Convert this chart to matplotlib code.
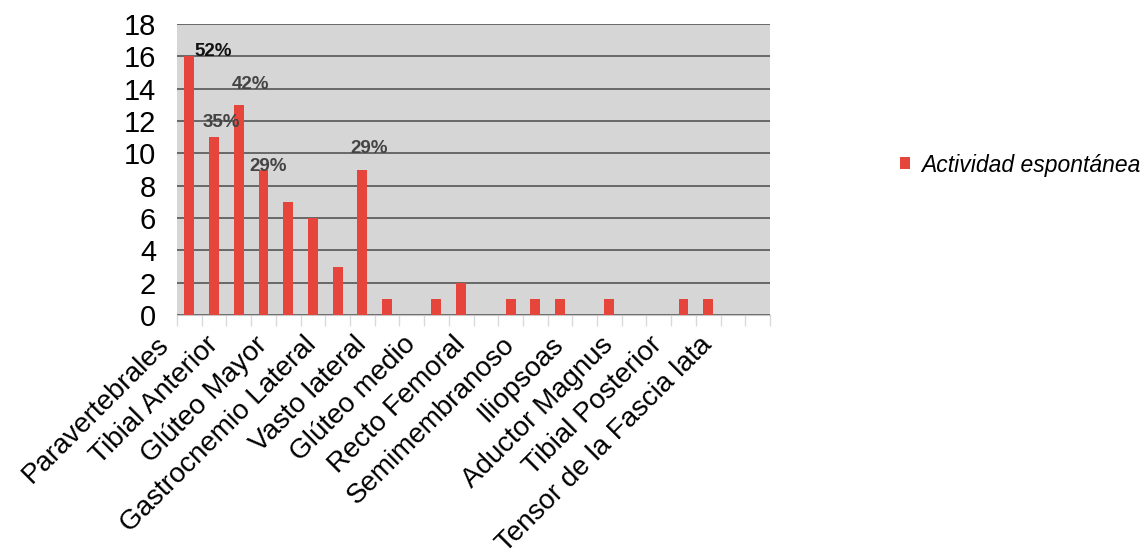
import numpy as np
import matplotlib
matplotlib.use("Agg")
import matplotlib.pyplot as plt
from matplotlib.transforms import ScaledTranslation

plt.rcParams['font.family'] = ['Liberation Sans', 'DejaVu Sans']

# 24 category slots, only every other one carries a label
values = [16, 11, 13, 9, 7, 6, 3, 9, 1, 0, 1, 2,
          0, 1, 1, 1, 0, 1, 0, 0, 1, 1, 0, 0]
labels = ["Paravertebrales", "Tibial Anterior", "Glúteo Mayor",
          "Gastrocnemio Lateral", "Vasto lateral", "Glúteo medio",
          "Recto Femoral", "Semimembranoso", "Iliopsoas",
          "Aductor Magnus", "Tibial Posterior", "Tensor de la Fascia lata"]
pct_idx = [0, 1, 2, 3, 7]
pct_text = ["52%", "35%", "42%", "29%", "29%"]
series_name = "Actividad espontánea"

# label offsets in pixels (hand placed in the original)
pct_off = [(5, 5), (-11, 15), (-7, 20), (-14, 3), (-12, 21)]

fig = plt.figure(figsize=(11.48, 5.6), dpi=100)
ax = fig.add_axes([177/1148, 1-315/560, (770-177)/1148, (315-24)/560])
ax.set_facecolor('#d6d6d6')

x = np.arange(len(values))
bars = ax.bar(x, values, width=0.4, color='#e5453a', zorder=3, label=series_name)

ax.set_xlim(-0.5, len(values)-0.5)
ax.set_ylim(0, 18)
ax.set_yticks(np.arange(0, 19, 2))
ax.yaxis.grid(True, color='#555555', lw=1.2, zorder=1)
ax.tick_params(axis='y', length=0, pad=15, labelsize=21)
for s in ['top', 'right', 'left']:
    ax.spines[s].set_visible(False)
ax.spines['bottom'].set_color('#c8c8c8')

# tick marks on the category boundaries
ax.set_xticks(np.arange(len(values)+1) - 0.5, minor=True)
ax.tick_params(axis='x', which='minor', length=8, color='#dadada', width=1)
ax.set_xticks(x[::2], labels)
ax.tick_params(axis='x', which='major', length=0, pad=12, labelsize=20)
shift = ScaledTranslation(-0.34, 0, fig.dpi_scale_trans)
for lbl in ax.get_xticklabels():
    lbl.set_rotation(45)
    lbl.set_rotation_mode('anchor')
    lbl.set_ha('right')
    lbl.set_va('top')
    lbl.set_transform(lbl.get_transform() + shift)

for k, (i, t) in enumerate(zip(pct_idx, pct_text)):
    ax.annotate(t, (i, values[i]), xytext=pct_off[k], textcoords='offset pixels',
                ha='left', va='center', fontsize=13.5, fontweight='bold',
                color='#111111' if k == 0 else '#444444', zorder=4)

leg = fig.legend(handles=[bars], labels=[series_name], loc='center left',
                 bbox_to_anchor=(900/1148, 1-165/560), frameon=False,
                 borderpad=0, borderaxespad=0, handlelength=0.45,
                 handleheight=0.45, handletextpad=0.45,
                 prop={'size': 16.5, 'style': 'italic'})

fig.savefig("out.png", dpi=100)
